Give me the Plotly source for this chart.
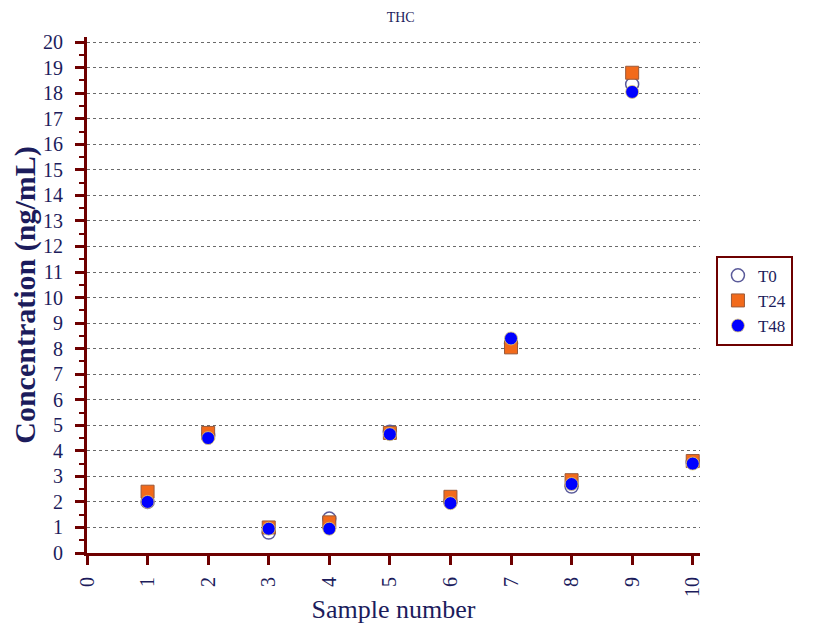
import plotly.graph_objects as go

samples = [1, 2, 3, 4, 5, 6, 7, 8, 9, 10]
t0 = [2.0, 4.6, 0.8, 1.35, 4.75, 2.0, 8.2, 2.6, 18.35, 3.55]
t24 = [2.4, 4.7, 1.0, 1.2, 4.7, 2.2, 8.05, 2.85, 18.8, 3.6]
t48 = [2.0, 4.5, 0.95, 0.95, 4.65, 1.95, 8.4, 2.7, 18.05, 3.5]

navy = "#1c1c5c"
axis_red = "#6e0000"
serif = "Liberation Serif"

fig = go.Figure()
fig.add_trace(go.Scatter(x=samples, y=t0, mode="markers", name="T0",
                         marker=dict(symbol="circle", size=13, color="white",
                                     line=dict(color="#5b5b9a", width=1.5))))
fig.add_trace(go.Scatter(x=samples, y=t24, mode="markers", name="T24",
                         marker=dict(symbol="square", size=13, color="#f26a1b",
                                     line=dict(color="#9a5a3a", width=1))))
fig.add_trace(go.Scatter(x=samples, y=t48, mode="markers", name="T48",
                         marker=dict(symbol="circle", size=13, color="#0000ff",
                                     line=dict(color="#e8d070", width=0.8))))

fig.update_layout(
    width=832, height=624,
    margin=dict(l=79, r=140, t=29, b=79, autoexpand=False),
    plot_bgcolor="white", paper_bgcolor="white",
    font=dict(family=serif, color=navy),
    title=dict(text="THC", x=0.472, xanchor="center", y=0.985, yanchor="middle",
               font=dict(size=14, color=navy, family=serif)),
    showlegend=True,
    legend=dict(x=1.026, y=0.576, xanchor="left", yanchor="top",
                bordercolor=axis_red, borderwidth=2, bgcolor="white",
                font=dict(size=17, color=navy, family=serif),
                itemwidth=30, tracegroupgap=0),
)

fig.update_xaxes(
    range=[0, 10.12], tickmode="linear", tick0=0, dtick=1,
    showline=True, linecolor=axis_red, linewidth=3,
    ticks="outside", ticklen=9, tickwidth=3, tickcolor=axis_red,
    tickangle=-90, tickfont=dict(size=20, color=navy, family=serif),
    ticklabelstandoff=4,
    showgrid=False, zeroline=False, automargin=False,
    title=dict(text="Sample number", font=dict(size=26, color=navy, family=serif), standoff=4),
)
fig.update_yaxes(
    range=[0, 20.2], tickmode="linear", tick0=0, dtick=1,
    showline=True, linecolor=axis_red, linewidth=3,
    ticks="outside", ticklen=9, tickwidth=3, tickcolor=axis_red,
    tickfont=dict(size=20, color=navy, family=serif),
    ticklabelstandoff=8,
    showgrid=True, gridcolor="#6a6a6a", gridwidth=1, griddash="dot",
    zeroline=False, automargin=False,
    minor=dict(ticks="outside", ticklen=5, tickwidth=2, tickcolor=axis_red, dtick=0.5, showgrid=False),
    title=dict(text="<b>Concentration (ng/mL)</b>", font=dict(size=30, color=navy, family=serif), standoff=8),
)

fig.write_html("out.html")
